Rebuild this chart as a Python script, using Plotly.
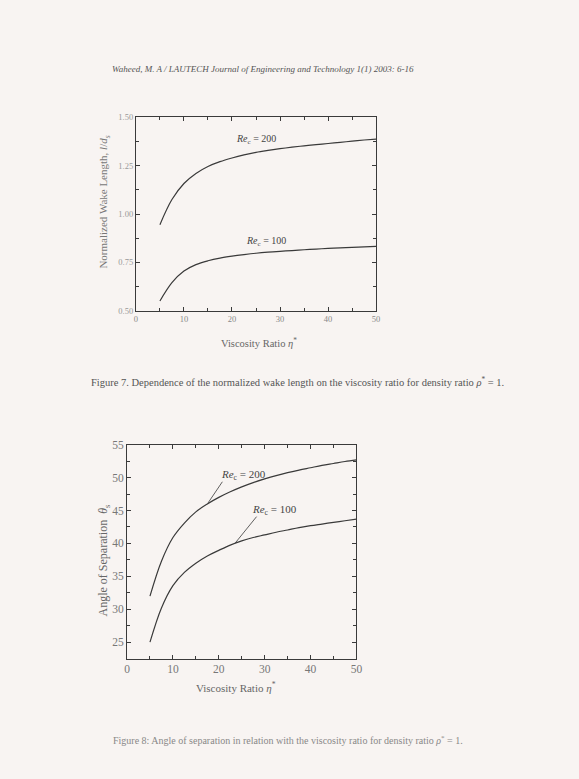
import plotly.graph_objects as go

W, H = 579, 779

# ---- data ----
eta = [5, 7.5, 10, 12.5, 15, 17.5, 20, 22.5, 25, 27.5, 30, 32.5, 35, 37.5, 40, 42.5, 45, 47.5, 50]
wake_re200 = [0.945, 1.075, 1.158, 1.210, 1.246, 1.271, 1.290, 1.306, 1.319, 1.329, 1.338,
              1.346, 1.353, 1.359, 1.365, 1.371, 1.377, 1.383, 1.388]
wake_re100 = [0.550, 0.645, 0.705, 0.738, 0.758, 0.772, 0.782, 0.790, 0.797, 0.8025, 0.807,
              0.811, 0.815, 0.8185, 0.822, 0.825, 0.8275, 0.830, 0.833]
sep_re200 = [32.0, 37.3, 40.9, 43.1, 44.8, 46.0, 47.0, 47.85, 48.6, 49.25, 49.8,
             50.3, 50.75, 51.15, 51.5, 51.85, 52.15, 52.45, 52.7]
sep_re100 = [25.0, 30.2, 33.6, 35.6, 37.0, 38.1, 38.95, 39.75, 40.4, 40.9, 41.3,
             41.7, 42.05, 42.4, 42.7, 42.95, 43.2, 43.45, 43.7]
x_ticks = [0, 10, 20, 30, 40, 50]
y1_ticks = [0.50, 0.75, 1.00, 1.25, 1.50]
y1_labels = ["0.50", "0.75", "1.00", "1.25", "1.50"]
y2_ticks = [25, 30, 35, 40, 45, 50, 55]

def px_x(p):
    return p / W

def px_y(p):
    return 1 - p / H

SERIF = "Liberation Serif, Times New Roman, serif"
LINE = "#3a3a3a"
BG = "#f8f4f2"

fig = go.Figure()
for y, nm in [(wake_re200, "Re=200"), (wake_re100, "Re=100")]:
    fig.add_trace(go.Scatter(x=eta, y=y, mode="lines", line=dict(color=LINE, width=1.2, shape="spline"),
                             xaxis="x", yaxis="y", showlegend=False, name=nm))
for y, nm in [(sep_re200, "Re=200"), (sep_re100, "Re=100")]:
    fig.add_trace(go.Scatter(x=eta, y=y, mode="lines", line=dict(color=LINE, width=1.2, shape="spline"),
                             xaxis="x2", yaxis="y2", showlegend=False, name=nm))

common_ax = dict(showline=True, linecolor=LINE, linewidth=1, mirror="allticks", ticks="inside",
                 tickcolor=LINE, showgrid=False, zeroline=False)

fig.update_layout(
    width=W, height=H, margin=dict(l=0, r=0, t=0, b=0),
    paper_bgcolor=BG, plot_bgcolor=BG,
    font=dict(family=SERIF, color="#555"),
    xaxis=dict(domain=[px_x(135), px_x(379)], range=[0, 50], tickvals=x_ticks, ticklen=4,
               minor=dict(ticks="inside", ticklen=3, dtick=5, tickcolor=LINE),
               tickfont=dict(size=8.5, color="#888"), anchor="y", **common_ax),
    yaxis=dict(domain=[px_y(309), px_y(113)], range=[0.5, 1.5], tickvals=y1_ticks, ticktext=y1_labels,
               ticklen=4, minor=dict(ticks="inside", ticklen=3, dtick=0.125, tickcolor=LINE),
               tickfont=dict(size=8.5, color="#999"), anchor="x", **common_ax),
    xaxis2=dict(domain=[px_x(126), px_x(359)], range=[0, 50], tickvals=x_ticks, ticklen=4,
                minor=dict(ticks="inside", ticklen=3, dtick=5, tickcolor=LINE),
                tickfont=dict(size=11.5, color="#777"), anchor="y2", **common_ax),
    yaxis2=dict(domain=[px_y(662), px_y(445)], range=[22.5, 55], tickvals=y2_ticks, ticklen=4,
                minor=dict(ticks="inside", ticklen=3, dtick=2.5, tickcolor=LINE),
                tickfont=dict(size=11.5, color="#777"), anchor="x2", **common_ax),
)

ann = []
def add_text(x, y, text, size, color="#555", angle=0, xanchor="center"):
    ann.append(dict(x=px_x(x), y=px_y(y), xref="paper", yref="paper", text=text, showarrow=False,
                    font=dict(family=SERIF, size=size, color=color), textangle=angle,
                    xanchor=xanchor, yanchor="middle"))

add_text(264, 64, "<i>Waheed, M. A / LAUTECH Journal of Engineering and Technology 1(1) 2003: 6-16</i>", 9, "#555")
add_text(260, 341, "Viscosity Ratio <i>η</i><sup>*</sup>", 10.5, "#666")
add_text(103, 199, "Normalized Wake Length, <i>l</i>/<i>d<sub>s</sub></i>", 11, "#777", angle=-90)
add_text(87, 381, "Figure 7. Dependence of the normalized wake length on the viscosity ratio for density ratio <i>ρ</i><sup>*</sup> = 1.",
         10.5, "#555", xanchor="left")
add_text(237, 691, "Viscosity Ratio <i>η</i><sup>*</sup>", 11, "#666")
add_text(103, 562, "Angle of Separation  <i>θ</i><sub>s</sub>", 12, "#666", angle=-90)
add_text(110, 745, "Figure 8: Angle of separation in relation with the viscosity ratio for density ratio <i>ρ</i><sup>*</sup> = 1.",
         10, "#888", xanchor="left")

# chart labels in data coordinates
ann += [
    dict(x=25, y=1.385, xref="x", yref="y", text="<i>Re</i><sub>c</sub> = 200", showarrow=False,
         font=dict(family=SERIF, size=10, color="#444")),
    dict(x=27, y=0.86, xref="x", yref="y", text="<i>Re</i><sub>c</sub> = 100", showarrow=False,
         font=dict(family=SERIF, size=10, color="#444")),
    dict(x=17.6, y=46.1, ax=21.0, ay=49.6, xref="x2", yref="y2", axref="x2", ayref="y2",
         text="", showarrow=True, arrowhead=0, arrowwidth=0.8, arrowcolor=LINE),
    dict(x=25.3, y=50.4, xref="x2", yref="y2", text="<i>Re</i><sub>c</sub> = 200", showarrow=False,
         font=dict(family=SERIF, size=11, color="#444")),
    dict(x=23.5, y=40.0, ax=28.5, ay=44.3, xref="x2", yref="y2", axref="x2", ayref="y2",
         text="", showarrow=True, arrowhead=0, arrowwidth=0.8, arrowcolor=LINE),
    dict(x=32.2, y=45.1, xref="x2", yref="y2", text="<i>Re</i><sub>c</sub> = 100", showarrow=False,
         font=dict(family=SERIF, size=11, color="#444")),
]
fig.update_layout(annotations=ann)

fig.write_html("out.html")
